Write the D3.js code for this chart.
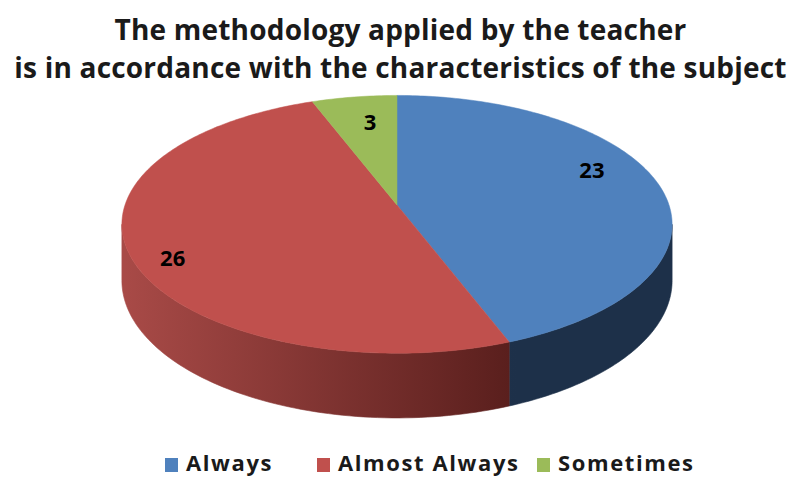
<!DOCTYPE html>
<html lang="en">
<head>
<script src="https://d3js.org/d3.v7.min.js"></script>
<style>
  body { margin: 0; background: #fff; }
  text { font-family: "Open Sans", "Liberation Sans", sans-serif; }
</style>
</head>
<body>
<div id="chart"></div>
<script>
// data
const categories = ["Always", "Almost Always", "Sometimes"];
const counts = [23, 26, 3];
const titleLines = ["The methodology applied by the teacher",
                    "is in accordance with the characteristics of the subject"];

const topColors  = ["#4f81bd", "#c0504d", "#9bbb59"];
const sideLight  = ["#24395a", "#a84a47", "#7d9a45"];
const sideDark   = ["#1d3049", "#581e1c", "#5d7430"];

const W = 797, H = 477;
// pie disk geometry, with a little perspective (front is closer)
const cx = 397, cy = 205, R = 272, Ry = 126, depth = 55, persp = 0.15;

const svg = d3.select("#chart").append("svg")
  .attr("width", W).attr("height", H);

const defs = svg.append("defs");
categories.forEach(function(c, i) {
  const g = defs.append("linearGradient")
    .attr("id", "side" + i)
    .attr("gradientUnits", "userSpaceOnUse")
    .attr("x1", cx - R).attr("x2", cx + R * 0.45)
    .attr("y1", 0).attr("y2", 0);
  g.append("stop").attr("offset", "0%").attr("stop-color", sideLight[i]);
  g.append("stop").attr("offset", "100%").attr("stop-color", sideDark[i]);
});

const pie = d3.pie().sort(null).value(d => d)(counts);

// project a point of the disk: angle clockwise from 12 o'clock, radius r (0..1), h=0 top / 1 bottom
function proj(a, r, h) {
  const x = r * Math.sin(a), z = -r * Math.cos(a);
  const k = 1 / (1 - persp * z);
  return [cx + R * x * k, cy + Ry * z * k + depth * k * (h || 0)];
}

// side walls: visible part of the rim
const aVis = Math.acos(-persp);
const walls = svg.append("g");
pie.forEach(function(s, i) {
  const a0 = Math.max(s.startAngle, aVis);
  const a1 = Math.min(s.endAngle, 2 * Math.PI - aVis);
  if (a1 <= a0) return;
  const n = 80, top = [], bot = [];
  for (let k = 0; k <= n; k++) {
    const a = a0 + (a1 - a0) * k / n;
    top.push(proj(a, 1, 0));
    bot.push(proj(a, 1, 1));
  }
  walls.append("path")
    .attr("d", d3.line()(top.concat(bot.reverse())) + "Z")
    .attr("fill", "url(#side" + i + ")")
    .attr("stroke", "url(#side" + i + ")")
    .attr("stroke-width", 0.6);
});

// top face
svg.append("g").selectAll("path")
  .data(pie)
  .enter().append("path")
  .attr("d", function(s) {
    const n = Math.max(4, Math.ceil((s.endAngle - s.startAngle) * 60));
    const pts = [proj(0, 0, 0)];
    for (let k = 0; k <= n; k++) {
      pts.push(proj(s.startAngle + (s.endAngle - s.startAngle) * k / n, 1, 0));
    }
    return d3.line()(pts) + "Z";
  })
  .attr("fill", (d, i) => topColors[i])
  .attr("stroke", (d, i) => topColors[i])
  .attr("stroke-width", 0.5);

// value labels: [fraction along slice, fraction of radius]
const labelAt = [[0.434, 0.8], [0.466, 0.87], [0.59, 0.74]];
svg.append("g").selectAll("text")
  .data(pie)
  .enter().append("text")
  .each(function(s, i) {
    const a = s.startAngle + (s.endAngle - s.startAngle) * labelAt[i][0];
    const p = proj(a, labelAt[i][1], 0);
    d3.select(this).attr("x", p[0]).attr("y", p[1]);
  })
  .attr("dy", "0.36em")
  .attr("text-anchor", "middle")
  .attr("font-size", 22)
  .attr("font-weight", 700)
  .attr("fill", "#000")
  .text(d => d.value);

// title
svg.append("g").selectAll("text")
  .data(titleLines)
  .enter().append("text")
  .attr("x", W / 2 + 2)
  .attr("y", (d, i) => 40 + i * 38)
  .attr("text-anchor", "middle")
  .attr("font-size", 28)
  .attr("font-weight", 700)
  .attr("letter-spacing", 0.2)
  .attr("fill", "#1a1a1a")
  .text(d => d);

// legend
const legendX = [165, 317, 537];
const legend = svg.append("g").selectAll("g")
  .data(categories)
  .enter().append("g")
  .attr("transform", (d, i) => "translate(" + legendX[i] + ",0)");
legend.append("rect")
  .attr("x", 0).attr("y", 458)
  .attr("width", 13).attr("height", 14)
  .attr("fill", (d, i) => topColors[i]);
legend.append("text")
  .attr("x", 21).attr("y", 471)
  .attr("font-size", 22)
  .attr("font-weight", 700)
  .attr("letter-spacing", 1.6)
  .attr("fill", "#1a1a1a")
  .text(d => d);
</script>
</body>
</html>
